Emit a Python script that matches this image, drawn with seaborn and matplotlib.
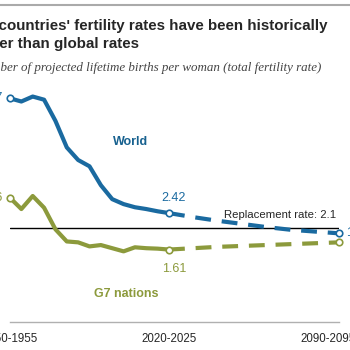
import numpy as np
import pandas as pd
import matplotlib.pyplot as plt
import matplotlib.transforms as mtransforms
import seaborn as sns

# historical, 5-year periods (start year)
hist_years = [1950, 1955, 1960, 1965, 1970, 1975, 1980, 1985, 1990, 1995, 2000, 2005, 2010, 2015, 2020]
world_hist = [4.97, 4.90, 5.01, 4.94, 4.47, 3.88, 3.60, 3.46, 3.04, 2.73, 2.62, 2.55, 2.51, 2.46, 2.42]
g7_hist = [2.76, 2.51, 2.80, 2.54, 2.06, 1.79, 1.77, 1.68, 1.71, 1.64, 1.57, 1.66, 1.64, 1.63, 1.61]

# projections
proj_years = [2020, 2030, 2040, 2050, 2060, 2070, 2080, 2090]
world_proj = [2.42, 2.33, 2.25, 2.18, 2.11, 2.05, 2.01, 1.97]
g7_proj = [1.61, 1.64, 1.67, 1.69, 1.71, 1.73, 1.75, 1.77]

replacement = 2.1
tick_years = [1950, 2020, 2090]
tick_labels = ['1950-1955', '2020-2025', '2090-2095']

blue = '#1a6aa0'
olive = '#8c9a3c'

hist = pd.DataFrame({'year': hist_years, 'World': world_hist, 'G7': g7_hist})
proj = pd.DataFrame({'year': proj_years, 'World': world_proj, 'G7': g7_proj})


# projection section is drawn a little wider than the historical one
def fwd(x):
    x = np.asarray(x, dtype=float)
    return np.where(x <= 2020, (x - 1950) * 159, 70 * 159 + (x - 2020) * 170)


def inv(u):
    u = np.asarray(u, dtype=float)
    return np.where(u <= 70 * 159, 1950 + u / 159, 2020 + (u - 70 * 159) / 170)


sns.set_style('white')
plt.rcParams['font.family'] = ['Liberation Sans', 'DejaVu Sans']

fig = plt.figure(figsize=(3.5, 3.5), dpi=100)
ax = fig.add_axes([10 / 350, 28 / 350, 329 / 350, 234 / 350])
ax.set_xscale('function', functions=(fwd, inv))

for col, c in [('World', blue), ('G7', olive)]:
    sns.lineplot(data=hist, x='year', y=col, ax=ax, color=c, lw=3, clip_on=False)
    l = sns.lineplot(data=proj, x='year', y=col, ax=ax, color=c, lw=3, clip_on=False)
    l.lines[-1].set_dashes([3.8, 2.6])
    ends = pd.concat([hist.iloc[[0, -1]], proj.iloc[[-1]]])
    ax.scatter(ends['year'], ends[col], s=22, facecolor='white', edgecolor=c,
               linewidth=1.2, zorder=5, clip_on=False)

ax.axhline(replacement, color='black', lw=1, zorder=1)
ax.text(2089, replacement + 0.17, 'Replacement rate: 2.1', ha='right', va='bottom', fontsize=8.2)

ax.text(1947, world_hist[0], f'{world_hist[0]:.2f}', color=blue, ha='right', va='center', fontsize=9)
ax.text(1947, g7_hist[0], f'{g7_hist[0]:.2f}', color=olive, ha='right', va='center', fontsize=9)
ax.text(2022, world_hist[-1] + 0.2, f'{world_hist[-1]:.2f}', color=blue, ha='center', va='bottom', fontsize=9)
ax.text(2022, g7_hist[-1] - 0.3, f'{g7_hist[-1]:.2f}', color=olive, ha='center', va='top', fontsize=9)
ax.text(2093, world_proj[-1], f'{world_proj[-1]:.2f}', color=blue, ha='left', va='center', fontsize=9)
ax.text(2003, 4.0, 'World', color='#17618f', fontsize=9, fontweight='bold', ha='center', va='center')
ax.text(2001, 0.62, 'G7 nations', color=olive, fontsize=9, fontweight='bold', ha='center', va='center')

ax.set_xlim(1950, 2090)
ax.set_ylim(0, 5.2)
ax.set_xticks(tick_years)
ax.set_xticklabels(tick_labels, fontsize=8.3)
ax.minorticks_off()
ax.tick_params(axis='x', length=0, pad=8)
# last label sits a bit left of its point, as in the original layout
last = ax.get_xticklabels()[-1]
last.set_transform(last.get_transform() + mtransforms.ScaledTranslation(-0.11, 0, fig.dpi_scale_trans))
ax.set_yticks([])
ax.set_xlabel('')
ax.set_ylabel('')
sns.despine(ax=ax, left=True)
ax.spines['bottom'].set_color('#b0b0b0')
ax.spines['bottom'].set_linewidth(1)

fig.add_artist(plt.Line2D([0, 1], [345 / 350, 345 / 350], color='#aaaaaa', lw=1.5))
fig.text(-0.073, 331 / 350, "G7 countries' fertility rates have been historically\nlower than global rates",
         fontsize=10.9, fontweight='bold', va='top', ha='left', linespacing=1.4)
fig.text(-0.067, 282 / 350, 'Number of projected lifetime births per woman (total fertility rate)',
         fontsize=9.4, style='italic', family=['Liberation Serif', 'DejaVu Serif'], color='#444444',
         va='center', ha='left')

fig.savefig('out.png', dpi=100)
